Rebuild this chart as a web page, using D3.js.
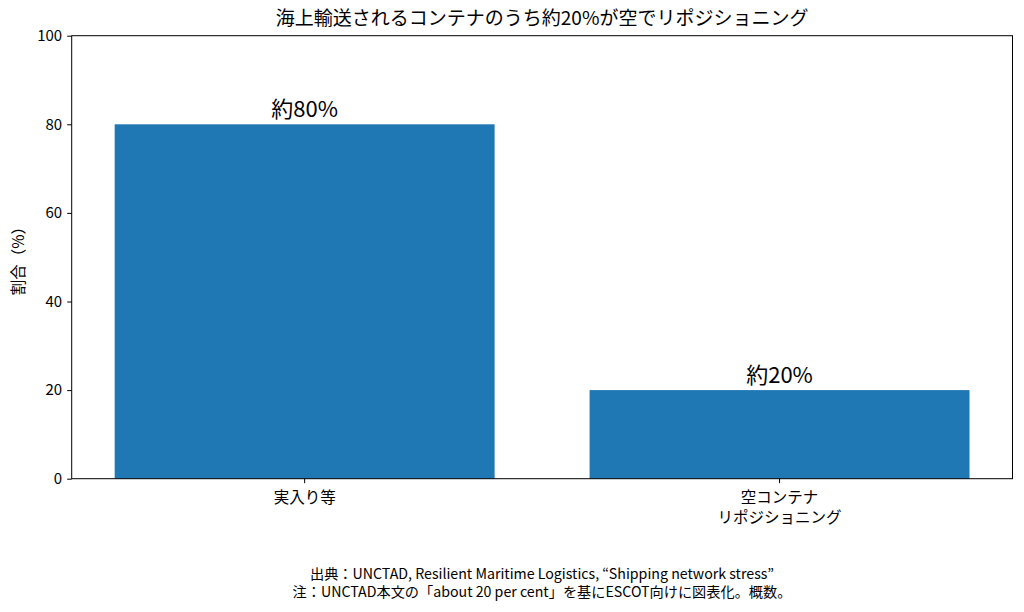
<!DOCTYPE html>
<html>
<head>
<meta charset="utf-8">
<script src="https://cdn.jsdelivr.net/npm/d3@7"></script>
<style>
  body { margin: 0; background: #fff; }
  svg text { font-family: "Noto Sans CJK JP", "Noto Sans", sans-serif; fill: #000; }
</style>
</head>
<body>
<svg id="chart" width="1024" height="612"></svg>
<script>
// data
const categories = ["実入り等", "空コンテナ\nリポジショニング"];
const values = [80, 20];
const barLabels = ["約80%", "約20%"];
const yTicks = [0, 20, 40, 60, 80, 100];

const chart = d3.select("#chart");
const plotLeft = 71.7, plotRight = 1012.5, plotTop = 35.7, plotBottom = 478.7;

// x band scale, matplotlib-like spacing
let x = d3.scaleBand()
    .domain(categories)
    .range([plotLeft, plotRight])
    .paddingInner(0.2)
    .paddingOuter(0.0905);

let y = d3.scaleLinear()
    .domain([0, 100])
    .range([plotBottom, plotTop]);

// bars
chart.selectAll("rect.bar")
    .data(values)
    .enter()
    .append("rect")
    .attr("class", "bar")
    .attr("x", function(d, i) { return x(categories[i]); })
    .attr("y", function(d) { return y(d); })
    .attr("width", x.bandwidth())
    .attr("height", function(d) { return plotBottom - y(d); })
    .style("fill", "#1f77b4");

// value labels
chart.selectAll("text.val")
    .data(values)
    .enter()
    .append("text")
    .attr("class", "val")
    .attr("x", function(d, i) { return x(categories[i]) + x.bandwidth() / 2; })
    .attr("y", function(d) { return y(d) - 7; })
    .attr("text-anchor", "middle")
    .attr("font-size", "22px")
    .text(function(d, i) { return barLabels[i]; });

// y axis
let yAxis = chart.append("g")
    .attr("transform", "translate(" + plotLeft + ",0)")
    .call(d3.axisLeft(y).tickValues(yTicks).tickSize(4.5).tickPadding(5));
yAxis.selectAll("text").attr("font-size", "15px").style("font-family", "Noto Sans CJK JP");
yAxis.select(".domain").remove();

// x axis
let xAxis = chart.append("g")
    .attr("transform", "translate(0," + plotBottom + ")")
    .call(d3.axisBottom(x).tickSize(4.5).tickFormat(""));
xAxis.select(".domain").remove();
xAxis.selectAll(".tick").each(function(d) {
    let lines = d.split("\n");
    let t = d3.select(this).append("text")
        .attr("text-anchor", "middle")
        .attr("font-size", "15.5px")
        .attr("y", 24);
    lines.forEach(function(l, i) {
        t.append("tspan").attr("x", 0).attr("dy", i == 0 ? 0 : 20).text(l);
    });
});

// frame
chart.append("rect")
    .attr("x", plotLeft).attr("y", plotTop)
    .attr("width", plotRight - plotLeft).attr("height", plotBottom - plotTop)
    .style("fill", "none").style("stroke", "#000").style("stroke-width", 1);

// title
chart.append("text")
    .attr("x", (plotLeft + plotRight) / 2)
    .attr("y", 25)
    .attr("text-anchor", "middle")
    .attr("font-size", "19px")
    .text("海上輸送されるコンテナのうち約20%が空でリポジショニング");

// y label
chart.append("text")
    .attr("transform", "translate(24," + ((plotTop + plotBottom) / 2) + ") rotate(-90)")
    .attr("text-anchor", "middle")
    .attr("font-size", "15.5px")
    .text("割合（%）");

// footnote
chart.append("text")
    .attr("x", 542).attr("y", 579)
    .attr("text-anchor", "middle")
    .attr("font-size", "14.2px")
    .text("出典：UNCTAD, Resilient Maritime Logistics, “Shipping network stress”");
chart.append("text")
    .attr("x", 542).attr("y", 597)
    .attr("text-anchor", "middle")
    .attr("font-size", "14.2px")
    .text("注：UNCTAD本文の「about 20 per cent」を基にESCOT向けに図表化。概数。");
</script>
</body>
</html>
